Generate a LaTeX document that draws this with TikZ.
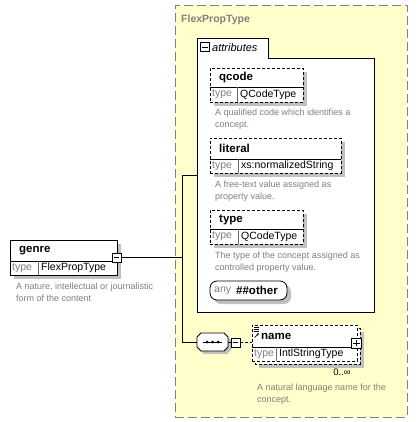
\documentclass[tikz,border=0pt]{standalone}
\usepackage{fontspec}
\setmainfont{Liberation Sans}
\usetikzlibrary{fit,arrows.meta}
\definecolor{yel}{RGB}{255,255,204}
\definecolor{shad}{RGB}{192,192,192}
\definecolor{desc}{RGB}{128,128,128}
\definecolor{frm}{RGB}{128,128,128}
\definecolor{divc}{RGB}{110,110,110}
\newcommand\fsz[1]{\fontsize{#1}{#1}\selectfont}
\def\shoff{4}
% #1 node name, #2 x1, #3 y1, #4 x2, #5 ydiv, #6 y2, #7 xdiv, #8 title, #9 type
\newcommand\elbox[9]{%
  \fill[shad] (#2+\shoff,#3+\shoff) rectangle (#4+\shoff,#6+\shoff);
  \node[elb, curel, fit={(#2,#3) (#4,#6)}] (#1) {};
  \draw[line width=.7pt] (#2,#5) -- (#4,#5);
  \draw[divc, line width=.7pt] (#7,#5) -- (#7,#6);
  \node[ttl] at (#2+9,{(#3+#5)/2}) {#8};
  \node[tlab] at (#2+2,{(#5+#6)/2}) {type};
  \node[tval] at (#7+3,{(#5+#6)/2}) {#9};
}
\begin{document}
\begin{tikzpicture}[x=1pt,y=-1pt,
  elb/.style={draw=black, fill=white, inner sep=0pt, line width=0.8pt},
  dsh/.style={dash pattern=on 3pt off 2pt},
  curel/.style={},
  ttl/.style={font=\bfseries\fsz{11.5}, inner sep=0pt, anchor=west},
  tlab/.style={font=\fsz{10.5}, text=desc, inner sep=0pt, anchor=west},
  tval/.style={font=\fsz{10.5}, inner sep=0pt, anchor=west},
  dtext/.style={font=\fontsize{9}{11.5}\selectfont, text=desc, inner sep=0pt, anchor=north west, align=left},
  pmbox/.style={draw, fill=white, minimum size=9pt, inner sep=0pt, line width=0.8pt},
  wire/.style={line width=0.8pt}]
\useasboundingbox (0,0) rectangle (417,422);
\fill[white] (0,0) rectangle (417,422);

% complex type frame
\node[fit={(175,5) (407,417)}, inner sep=0pt, draw=frm, fill=yel, line width=0.8pt, dash pattern=on 9pt off 4pt] (flex) {};
\node[font=\bfseries\fsz{10.5}, text=frm, anchor=west, inner sep=0pt] (flextitle) at (181,20) {FlexPropType};

% attributes group
\node[fit={(197,58) (374,312)}, inner sep=0pt] (attr) {};
\draw[fill=white, line width=0.8pt] (268,58) -- (374,58) -- (374,312) -- (197,312) -- (197,38) -- (268,38) -- cycle;
\node[pmbox] (attrmin) at (205,47) {};
\draw ([xshift=2pt]attrmin.west) -- ([xshift=-2pt]attrmin.east);
\node[font=\itshape\fsz{11}, anchor=west, inner sep=0pt] (attrlbl) at (212,48) {attributes};

\tikzset{curel/.style={dsh}}
\elbox{elqcode}{210}{68}{303}{87}{102}{237}{qcode}{QCodeType}
\node[dtext] (dqcode) at (215,109) {A qualified code which identifies a\\concept.};
\elbox{elliteral}{210}{138}{341}{159}{173}{238}{literal}{xs:normalizedString}
\node[dtext] (dliteral) at (215,181) {A free-text value assigned as\\property value.};
\elbox{eltype}{210}{210}{303}{229}{244}{238}{type}{QCodeType}
\node[dtext] (dtype) at (215,252) {The type of the concept assigned as\\controlled property value.};

% any ##other
\fill[shad, rounded corners=7pt] (214,285) rectangle (291,304);
\node[fit={(210,281) (287,300)}, inner sep=0pt, draw, fill=white, rounded corners=7pt, line width=0.8pt] (any) {};
\node[tlab] (anylbl) at (214,290.5) {any};
\node[ttl] (anyval) at (236,290.5) {\#\#other};

% genre element
\tikzset{curel/.style={}}
\elbox{genre}{10}{240}{117}{261}{275}{38}{genre}{FlexPropType}
\node[dtext] (dgenre) at (16,283) {A nature, intellectual or journalistic\\form of the content};
\node[pmbox] (gmin) at (116.5,257.5) {};
\draw ([xshift=2pt]gmin.west) -- ([xshift=-2pt]gmin.east);

% sequence compositor
\fill[shad] (204,336) -- (227,336) -- (231,340) -- (231,350) -- (227,354) -- (204,354) -- (200,350) -- (200,340) -- cycle;
\draw[fill=white, line width=0.8pt] (201,333) -- (224,333) -- (228,337) -- (228,347) -- (224,351) -- (201,351) -- (197,347) -- (197,337) -- cycle;
\node[fit={(197,333) (228,351)}, inner sep=0pt] (seq) {};
\draw[line width=0.8pt] (203,342) -- (222,342);
\foreach \dx in {207,212.5,218} \fill (\dx,342) circle (1.5pt);
\node[pmbox] (smin) at (235.5,342.5) {};
\draw ([xshift=2pt]smin.west) -- ([xshift=-2pt]smin.east);

% name element (repeated)
\fill[shad] (259,332) rectangle (364,368);
\draw[fill=white, line width=0.8pt, dsh] (255,328) rectangle (360,364);
\tikzset{curel/.style={dsh}}
\def\shoff{0}
\elbox{elname}{252}{325}{357}{347}{361}{276}{name}{IntlStringType}
\draw[line width=0.6pt] (254,327.5) -- (258.5,327.5) (254,329.3) -- (258.5,329.3) (254,331.1) -- (258.5,331.1);
\draw[line width=0.7pt, -{Latex[length=2.5pt,width=2.5pt]}] (254.5,337.5) -- (259,333);
\node[pmbox, minimum size=10pt] (nplus) at (356.5,343) {};
\draw ([xshift=2pt]nplus.west) -- ([xshift=-2pt]nplus.east) ([yshift=-2pt]nplus.north) -- ([yshift=2pt]nplus.south);
\node[font=\fsz{9.5}, inner sep=0pt] (occ) at (342,372) {0..∞};
\node[dtext] (dname) at (257,384) {A natural language name for the\\concept.};

% connectors
\coordinate (jt) at (182,175);
\coordinate (jb) at (182,342);
\draw[wire] (gmin.east) -- (gmin.east -| jt);
\draw[wire] (attr.west |- jt) -- (jt) -- (jb) -- (seq.west |- jb);
\draw[wire] (seq.east |- smin) -- (smin.west);
\draw[wire, dsh] (smin.east) -- (smin.east -| elname.west);
\end{tikzpicture}
\end{document}
